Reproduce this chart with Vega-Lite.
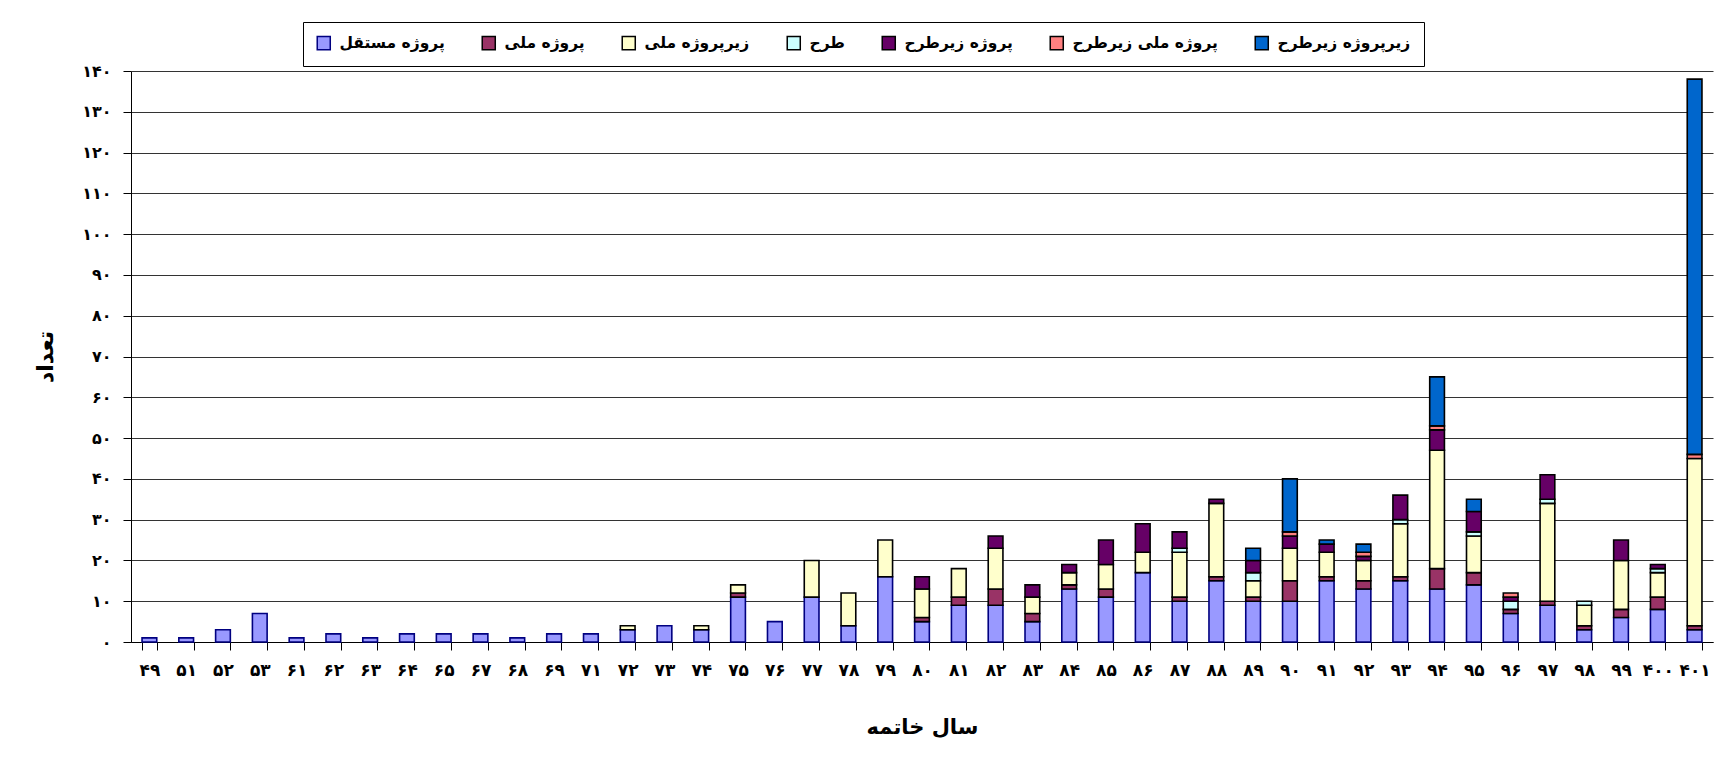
{
  "$schema": "https://vega.github.io/schema/vega-lite/v6.json",
  "width": 1582,
  "height": 571,
  "autosize": {"type": "none"},
  "padding": {"left": 131, "top": 71, "right": 3, "bottom": 115},
  "background": "white",
  "config": {
    "font": "DejaVu Sans",
    "view": {"stroke": null}
  },
  "data": {
    "values": [
      {"year": "۴۹", "پروژه مستقل": 1},
      {"year": "۵۱", "پروژه مستقل": 1},
      {"year": "۵۲", "پروژه مستقل": 3},
      {"year": "۵۳", "پروژه مستقل": 7},
      {"year": "۶۱", "پروژه مستقل": 1},
      {"year": "۶۲", "پروژه مستقل": 2},
      {"year": "۶۳", "پروژه مستقل": 1},
      {"year": "۶۴", "پروژه مستقل": 2},
      {"year": "۶۵", "پروژه مستقل": 2},
      {"year": "۶۷", "پروژه مستقل": 2},
      {"year": "۶۸", "پروژه مستقل": 1},
      {"year": "۶۹", "پروژه مستقل": 2},
      {"year": "۷۱", "پروژه مستقل": 2},
      {"year": "۷۲", "پروژه مستقل": 3, "زیرپروژه ملی": 1},
      {"year": "۷۳", "پروژه مستقل": 4},
      {"year": "۷۴", "پروژه مستقل": 3, "زیرپروژه ملی": 1},
      {"year": "۷۵", "پروژه مستقل": 11, "پروژه ملی": 1, "زیرپروژه ملی": 2},
      {"year": "۷۶", "پروژه مستقل": 5},
      {"year": "۷۷", "پروژه مستقل": 11, "زیرپروژه ملی": 9},
      {"year": "۷۸", "پروژه مستقل": 4, "زیرپروژه ملی": 8},
      {"year": "۷۹", "پروژه مستقل": 16, "زیرپروژه ملی": 9},
      {"year": "۸۰", "پروژه مستقل": 5, "پروژه ملی": 1, "زیرپروژه ملی": 7, "پروژه زیرطرح": 3},
      {"year": "۸۱", "پروژه مستقل": 9, "پروژه ملی": 2, "زیرپروژه ملی": 7},
      {"year": "۸۲", "پروژه مستقل": 9, "پروژه ملی": 4, "زیرپروژه ملی": 10, "پروژه زیرطرح": 3},
      {"year": "۸۳", "پروژه مستقل": 5, "پروژه ملی": 2, "زیرپروژه ملی": 4, "پروژه زیرطرح": 3},
      {"year": "۸۴", "پروژه مستقل": 13, "پروژه ملی": 1, "زیرپروژه ملی": 3, "پروژه زیرطرح": 2},
      {"year": "۸۵", "پروژه مستقل": 11, "پروژه ملی": 2, "زیرپروژه ملی": 6, "پروژه زیرطرح": 6},
      {"year": "۸۶", "پروژه مستقل": 17, "زیرپروژه ملی": 5, "پروژه زیرطرح": 7},
      {"year": "۸۷", "پروژه مستقل": 10, "پروژه ملی": 1, "زیرپروژه ملی": 11, "طرح": 1, "پروژه زیرطرح": 4},
      {"year": "۸۸", "پروژه مستقل": 15, "پروژه ملی": 1, "زیرپروژه ملی": 18, "پروژه زیرطرح": 1},
      {"year": "۸۹", "پروژه مستقل": 10, "پروژه ملی": 1, "زیرپروژه ملی": 4, "طرح": 2, "پروژه زیرطرح": 3, "زیرپروژه زیرطرح": 3},
      {"year": "۹۰", "پروژه مستقل": 10, "پروژه ملی": 5, "زیرپروژه ملی": 8, "پروژه زیرطرح": 3, "پروژه ملی زیرطرح": 1, "زیرپروژه زیرطرح": 13},
      {"year": "۹۱", "پروژه مستقل": 15, "پروژه ملی": 1, "زیرپروژه ملی": 6, "پروژه زیرطرح": 2, "زیرپروژه زیرطرح": 1},
      {"year": "۹۲", "پروژه مستقل": 13, "پروژه ملی": 2, "زیرپروژه ملی": 5, "پروژه زیرطرح": 1, "پروژه ملی زیرطرح": 1, "زیرپروژه زیرطرح": 2},
      {"year": "۹۳", "پروژه مستقل": 15, "پروژه ملی": 1, "زیرپروژه ملی": 13, "طرح": 1, "پروژه زیرطرح": 6},
      {"year": "۹۴", "پروژه مستقل": 13, "پروژه ملی": 5, "زیرپروژه ملی": 29, "پروژه زیرطرح": 5, "پروژه ملی زیرطرح": 1, "زیرپروژه زیرطرح": 12},
      {"year": "۹۵", "پروژه مستقل": 14, "پروژه ملی": 3, "زیرپروژه ملی": 9, "طرح": 1, "پروژه زیرطرح": 5, "زیرپروژه زیرطرح": 3},
      {"year": "۹۶", "پروژه مستقل": 7, "پروژه ملی": 1, "طرح": 2, "پروژه زیرطرح": 1, "پروژه ملی زیرطرح": 1},
      {"year": "۹۷", "پروژه مستقل": 9, "پروژه ملی": 1, "زیرپروژه ملی": 24, "طرح": 1, "پروژه زیرطرح": 6},
      {"year": "۹۸", "پروژه مستقل": 3, "پروژه ملی": 1, "زیرپروژه ملی": 5, "طرح": 1},
      {"year": "۹۹", "پروژه مستقل": 6, "پروژه ملی": 2, "زیرپروژه ملی": 12, "پروژه زیرطرح": 5},
      {"year": "۴۰۰", "پروژه مستقل": 8, "پروژه ملی": 3, "زیرپروژه ملی": 6, "طرح": 1, "پروژه زیرطرح": 1},
      {"year": "۴۰۱", "پروژه مستقل": 3, "پروژه ملی": 1, "زیرپروژه ملی": 41, "پروژه ملی زیرطرح": 1, "زیرپروژه زیرطرح": 92}
    ]
  },
  "transform": [
    {"fold": ["پروژه مستقل", "پروژه ملی", "زیرپروژه ملی", "طرح", "پروژه زیرطرح", "پروژه ملی زیرطرح", "زیرپروژه زیرطرح"], "as": ["series", "count"]},
    {"filter": "isValid(datum.count) && datum.count > 0"},
    {"calculate": "indexof(['پروژه مستقل', 'پروژه ملی', 'زیرپروژه ملی', 'طرح', 'پروژه زیرطرح', 'پروژه ملی زیرطرح', 'زیرپروژه زیرطرح'], datum.series)", "as": "ord"}
  ],
  "mark": {"type": "bar", "strokeWidth": 1.6},
  "encoding": {
    "x": {
      "field": "year",
      "type": "nominal",
      "sort": null,
      "scale": {"paddingInner": 0.6, "paddingOuter": 0.3},
      "axis": {
        "title": "سال خاتمه",
        "titleFontSize": 21,
        "titleFontWeight": "bold",
        "titlePadding": 38,
        "titleColor": "black",
        "labelAngle": 0,
        "labelFontSize": 17,
        "labelFontWeight": "bold",
        "labelColor": "black",
        "labelPadding": 12,
        "tickBand": "extent",
        "tickSize": 8,
        "tickColor": "black",
        "domainColor": "black",
        "grid": false
      }
    },
    "y": {
      "field": "count",
      "type": "quantitative",
      "stack": "zero",
      "scale": {"domain": [0, 140], "nice": false},
      "axis": {
        "title": "تعداد",
        "titleFontSize": 22,
        "titleFontWeight": "bold",
        "titleColor": "black",
        "titlePadding": 24,
        "values": [0, 10, 20, 30, 40, 50, 60, 70, 80, 90, 100, 110, 120, 130, 140],
        "labelExpr": "replace(replace(replace(replace(replace(replace(replace(replace(replace(replace(datum.label, regexp('0','g'), '۰'), regexp('1','g'), '۱'), regexp('2','g'), '۲'), regexp('3','g'), '۳'), regexp('4','g'), '۴'), regexp('5','g'), '۵'), regexp('6','g'), '۶'), regexp('7','g'), '۷'), regexp('8','g'), '۸'), regexp('9','g'), '۹')",
        "labelFontSize": 16,
        "labelFontWeight": "bold",
        "labelColor": "black",
        "labelPadding": 12,
        "tickSize": 8,
        "tickColor": "black",
        "domainColor": "black",
        "grid": true,
        "gridColor": "#333333",
        "gridWidth": 1
      }
    },
    "fill": {
      "field": "series",
      "type": "nominal",
      "scale": {
        "domain": ["پروژه مستقل", "پروژه ملی", "زیرپروژه ملی", "طرح", "پروژه زیرطرح", "پروژه ملی زیرطرح", "زیرپروژه زیرطرح"],
        "range": ["#9999FF", "#993366", "#FFFFCC", "#CCFFFF", "#660066", "#FF8080", "#0066CC"]
      },
      "legend": {
        "orient": "none",
        "legendX": 172,
        "legendY": -49,
        "direction": "horizontal",
        "columns": 7,
        "title": null,
        "strokeColor": "black",
        "fillColor": "white",
        "padding": 13,
        "labelFontSize": 15.5,
        "labelFontWeight": "bold",
        "labelColor": "black",
        "labelOffset": 8,
        "columnPadding": 34,
        "symbolType": "square",
        "symbolSize": 170,
        "symbolStrokeWidth": 1.5
      }
    },
    "stroke": {
      "field": "series",
      "type": "nominal",
      "scale": {
        "domain": ["پروژه مستقل", "پروژه ملی", "زیرپروژه ملی", "طرح", "پروژه زیرطرح", "پروژه ملی زیرطرح", "زیرپروژه زیرطرح"],
        "range": ["#000080", "#000000", "#000000", "#000000", "#000000", "#000000", "#000000"]
      },
      "legend": {
        "orient": "none",
        "legendX": 172,
        "legendY": -49,
        "direction": "horizontal",
        "columns": 7,
        "title": null,
        "strokeColor": "black",
        "fillColor": "white",
        "padding": 13,
        "labelFontSize": 15.5,
        "labelFontWeight": "bold",
        "labelColor": "black",
        "labelOffset": 8,
        "columnPadding": 34,
        "symbolType": "square",
        "symbolSize": 170,
        "symbolStrokeWidth": 1.5
      }
    },
    "order": {"field": "ord", "type": "quantitative"}
  }
}
